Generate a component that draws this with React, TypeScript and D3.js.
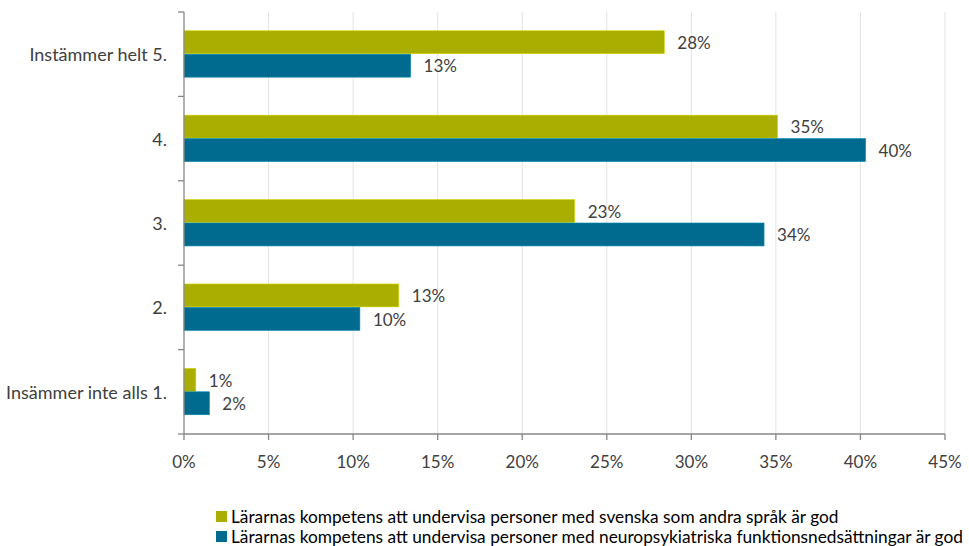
import React from "react"
import * as d3 from "d3"

// ── Data ──────────────────────────────────────────────────────────────────────

const categories = [
  "Instämmer helt 5.",
  "4.",
  "3.",
  "2.",
  "Insämmer inte alls 1.",
]
const seriesNames = [
  "Lärarnas kompetens att undervisa personer med svenska som andra språk är god",
  "Lärarnas kompetens att undervisa personer med neuropsykiatriska funktionsnedsättningar är god",
]
const svenskaValues = [28.4, 35.1, 23.1, 12.7, 0.7]
const npfValues = [13.4, 40.3, 34.3, 10.4, 1.5]
const xTicks = [0, 5, 10, 15, 20, 25, 30, 35, 40, 45]
const colors = ["#a9ae00", "#006b8e"]

const W = 969
const H = 546
const FONT = "Lato, 'Open Sans', 'Liberation Sans', sans-serif"
const FS = 18

export default function App() {
  const x = d3.scaleLinear().domain([0, 45]).range([184, 945])
  const y = d3.scaleBand().domain(categories).range([12, 434]).padding(0)
  const inner = d3
    .scaleBand()
    .domain(["0", "1"])
    .range([0, y.bandwidth()])
    .paddingInner(0)
    .paddingOuter(0.8)

  const series = [svenskaValues, npfValues]
  const edges = [...categories.map(c => y(c) as number), 434]

  return (
    <div style={{ position: "fixed", left: 0, top: 0 }}>
      <svg width={W} height={H} style={{ display: "block", background: "#fff" }} fontFamily={FONT}>
        {/* grid */}
        {xTicks.slice(1).map(t => (
          <line key={t} x1={x(t)} x2={x(t)} y1={12} y2={434} stroke="#e3e3e3" strokeWidth={1} />
        ))}

        {/* bars */}
        {categories.map((c, i) =>
          series.map((vals, s) => {
            const by = (y(c) as number) + (inner(String(s)) as number)
            const bh = inner.bandwidth()
            const v = vals[i]
            return (
              <g key={`${c}-${s}`}>
                <rect
                  x={x(0)}
                  y={by}
                  width={x(v) - x(0)}
                  height={bh - 0.5}
                  fill={colors[s]}
                  stroke={d3.color(colors[s])!.brighter(0.6).toString()}
                  strokeWidth={0.6}
                />
                <text
                  x={x(v) + 13}
                  y={by + bh / 2}
                  dominantBaseline="central"
                  fontSize={FS - 1}
                  fill="#404040"
                >
                  {Math.round(v)}%
                </text>
              </g>
            )
          }),
        )}

        {/* y axis */}
        <line x1={184} x2={184} y1={12} y2={434} stroke="#878787" strokeWidth={1.3} />
        {edges.map((e, i) => (
          <line key={i} x1={178} x2={184} y1={e} y2={e} stroke="#878787" strokeWidth={1.3} />
        ))}
        {categories.map(c => (
          <text
            key={c}
            x={167}
            y={(y(c) as number) + y.bandwidth() / 2}
            textAnchor="end"
            dominantBaseline="central"
            fontSize={FS}
            fill="#404040"
          >
            {c}
          </text>
        ))}

        {/* x axis */}
        <line x1={184} x2={945} y1={434} y2={434} stroke="#878787" strokeWidth={1.3} />
        {xTicks.map(t => (
          <g key={t}>
            <line x1={x(t)} x2={x(t)} y1={434} y2={440} stroke="#878787" strokeWidth={1.3} />
            <text x={x(t)} y={461} textAnchor="middle" dominantBaseline="central" fontSize={FS - 1} fill="#404040">
              {t}%
            </text>
          </g>
        ))}

        {/* legend */}
        {seriesNames.map((n, i) => (
          <g key={n} transform={`translate(216,${511 + i * 20})`}>
            <rect x={0} y={0} width={11} height={11} fill={colors[i]} />
            <text x={15} y={5.5} dominantBaseline="central" fontSize={17.3} fill="#000">
              {n}
            </text>
          </g>
        ))}
      </svg>
    </div>
  )
}
